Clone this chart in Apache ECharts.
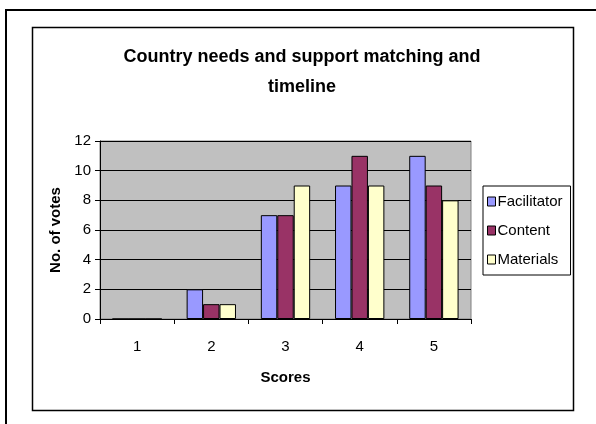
<!DOCTYPE html>
<html>
<head>
<meta charset="utf-8">
<script src="https://cdn.jsdelivr.net/npm/echarts@6/dist/echarts.min.js"></script>
<style>
  html, body { margin: 0; padding: 0; background: #fff; }
  #chart { width: 596px; height: 424px; }
</style>
</head>
<body>
<div id="chart"></div>
<script>
// Votes per score for each aspect
const scores = ['1', '2', '3', '4', '5'];
const facilitator = [0, 2, 7, 9, 11];
const content = [0, 1, 7, 11, 9];
const materials = [0, 1, 9, 9, 8];
const seriesNames = ['Facilitator', 'Content', 'Materials'];
const seriesColors = ['#9999FF', '#993366', '#FFFFCC'];

const FONT = 'Liberation Sans, Arial, sans-serif';
const chart = echarts.init(document.getElementById('chart'), null, { renderer: 'canvas' });

const barSeries = [facilitator, content, materials].map((values, i) => ({
  name: seriesNames[i],
  type: 'bar',
  data: values,
  barGap: '0%',
  barCategoryGap: '33.5%',
  itemStyle: { color: seriesColors[i], borderColor: '#000', borderWidth: 1 },
  emphasis: { disabled: true },
  animation: false
}));

chart.setOption({
  animation: false,
  textStyle: { fontFamily: FONT },
  graphic: [
    { type: 'rect', shape: { x: 6, y: 10, width: 600, height: 430 }, style: { fill: 'none', stroke: '#000', lineWidth: 2 }, silent: true },
    { type: 'rect', shape: { x: 32.5, y: 27.5, width: 541, height: 383 }, style: { fill: 'none', stroke: '#000', lineWidth: 1.5 }, silent: true }
  ],
  title: {
    text: 'Country needs and support matching and\ntimeline',
    left: 297,
    textAlign: 'center',
    top: 37,
    textStyle: { fontFamily: FONT, fontSize: 18, fontWeight: 'bold', color: '#000', lineHeight: 30 }
  },
  legend: {
    orient: 'vertical',
    left: 483,
    top: 186,
    data: seriesNames,
    icon: 'rect',
    itemWidth: 8,
    itemHeight: 9,
    itemGap: 14,
    padding: [8, 8, 8, 4],
    borderColor: '#000',
    borderWidth: 1,
    backgroundColor: '#fff',
    itemStyle: { borderColor: '#000', borderWidth: 1 },
    textStyle: { fontFamily: FONT, fontSize: 15, color: '#000', padding: [0, 0, 0, -3] },
    selectedMode: false
  },
  grid: {
    left: 100, right: 125, top: 141, bottom: 105,
    show: true, backgroundColor: '#C0C0C0', borderColor: '#808080', borderWidth: 1
  },
  xAxis: {
    type: 'category',
    data: scores,
    name: 'Scores',
    nameLocation: 'middle',
    nameGap: 51,
    nameTextStyle: { fontFamily: FONT, fontSize: 15, fontWeight: 'bold', color: '#000' },
    axisLine: { lineStyle: { color: '#000', width: 1 } },
    axisTick: { show: true, length: 5, lineStyle: { color: '#000' } },
    axisLabel: { fontFamily: FONT, fontSize: 15, color: '#000', margin: 20 }
  },
  yAxis: {
    type: 'value',
    min: 0, max: 12, interval: 2,
    name: 'No. of votes',
    nameLocation: 'middle',
    nameGap: 36,
    nameRotate: 90,
    nameTextStyle: { fontFamily: FONT, fontSize: 15, fontWeight: 'bold', color: '#000' },
    axisLine: { show: true, lineStyle: { color: '#000', width: 1 } },
    axisTick: { show: true, length: 5, lineStyle: { color: '#000' } },
    axisLabel: { fontFamily: FONT, fontSize: 15, color: '#000', margin: 9 },
    splitLine: { show: true, lineStyle: { color: '#000', width: 1 } }
  },
  series: barSeries
});
</script>
</body>
</html>
